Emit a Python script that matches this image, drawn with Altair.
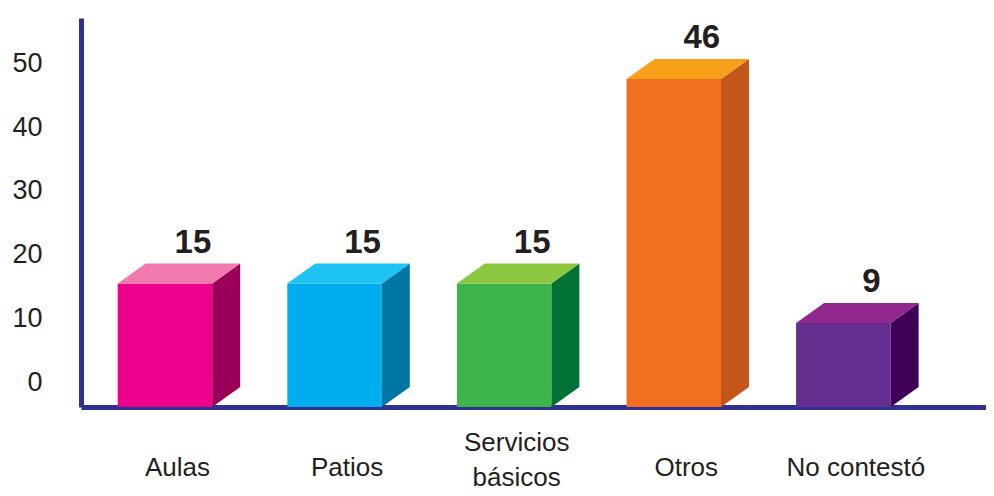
import altair as alt
import pandas as pd

# ---- data ----
categories = ["Aulas", "Patios", "Servicios básicos", "Otros", "No contestó"]
values = [15, 15, 15, 46, 9]
front_colors = ["#EC008C", "#00AEEF", "#3DB54A", "#F26F21", "#662D91"]
top_colors = ["#F07AAE", "#1DC3F3", "#8DC63F", "#F7A11A", "#92278F"]
side_colors = ["#9B0058", "#0076A3", "#007236", "#C4561B", "#3F0058"]
y_ticks = [0, 10, 20, 30, 40, 50]

# ---- layout / style constants ----
W, H = 905, 389
PAD = {"left": 73, "top": 10, "right": 0, "bottom": 81}
X_DOMAIN = [-0.495, 4.841]        # category index scale
HALF = 0.2786                     # half bar width (index units)
DX = 0.165                        # 3D depth, horizontal (index units)
BAR_Y_DOMAIN = [-3.71, 55.23]
DY = 3.03                         # 3D depth, vertical (value units)
AXIS_Y_DOMAIN = [-3.92, 57.14]
NAVY = "#2E3192"
TXT = "#231F20"

idx = list(range(len(categories)))
base = BAR_Y_DOMAIN[0]

front = pd.DataFrame({
    "xl": [i - HALF for i in idx], "xr": [i + HALF for i in idx],
    "top": values, "bot": [base] * len(idx), "col": front_colors,
})

side_rows, top_rows = [], []
for i, v, sc, tc in zip(idx, values, side_colors, top_colors):
    side_rows.append({"k": i, "x": i + HALF, "y": v, "y2": base, "col": sc})
    side_rows.append({"k": i, "x": i + HALF + DX, "y": v + DY, "y2": base + DY, "col": sc})
    top_rows.append({"k": i, "y": v, "x": i - HALF, "x2": i + HALF, "col": tc})
    top_rows.append({"k": i, "y": v + DY, "x": i - HALF + DX, "x2": i + HALF + DX, "col": tc})
side = pd.DataFrame(side_rows)
topf = pd.DataFrame(top_rows)
labels = pd.DataFrame({"x": [i + DX for i in idx], "y": [v + DY for v in values],
                       "t": [str(v) for v in values]})

multi = [i for i, c in enumerate(categories) if c == "Servicios básicos"]

def expr_item(c):
    if c == "Servicios básicos":
        return "[" + ",".join("'" + p + "'" for p in c.split(" ")) + "]"
    return "'" + c + "'"

label_expr = "[" + ",".join(expr_item(c) for c in categories) + "][datum.value]"
multi_test = " || ".join("datum.value == %d" % i for i in multi) or "false"

X_AXIS = alt.Axis(values=idx, labelExpr=label_expr, ticks=False, grid=False, title=None,
                  domainColor=NAVY, domainWidth=5, labelFont="Liberation Sans",
                  labelFontSize=26, labelColor=TXT, labelOffset=12,
                  labelBaseline={"condition": {"test": multi_test, "value": "alphabetic"},
                                 "value": "line-top"},
                  labelPadding=43, labelLineHeight=35, labelOverlap=False, labelFlush=False)
xs = alt.Scale(domain=X_DOMAIN, nice=False, zero=False)
ys = alt.Scale(domain=BAR_Y_DOMAIN, nice=False, zero=False)

axis_layer = alt.Chart(pd.DataFrame({"t": y_ticks})).mark_point(opacity=0).encode(
    y=alt.Y("t:Q", scale=alt.Scale(domain=AXIS_Y_DOMAIN, nice=False, zero=False),
            axis=alt.Axis(orient="left", values=y_ticks, ticks=False, tickSize=0, grid=False,
                          title=None, domainColor=NAVY, domainWidth=5,
                          labelFont="Liberation Sans", labelFontSize=27, labelColor=TXT,
                          labelPadding=39)),
)

front_layer = alt.Chart(front).mark_rect().encode(
    x=alt.X("xl:Q", scale=xs, axis=X_AXIS), x2="xr:Q",
    y=alt.Y("top:Q", scale=ys, axis=None), y2="bot:Q",
    color=alt.Color("col:N", scale=None),
)

side_layer = alt.Chart(side).mark_area().encode(
    x=alt.X("x:Q", scale=xs, axis=X_AXIS),
    y=alt.Y("y:Q", scale=ys, axis=None), y2="y2:Q",
    color=alt.Color("col:N", scale=None), detail="k:N",
)

top_layer = alt.Chart(topf).mark_area(orient="horizontal").encode(
    y=alt.Y("y:Q", scale=ys, axis=None),
    x=alt.X("x:Q", scale=xs, axis=X_AXIS), x2="x2:Q",
    color=alt.Color("col:N", scale=None), detail="k:N",
)

text_layer = alt.Chart(labels).mark_text(
    font="Liberation Sans", fontWeight="bold", fontSize=33, color=TXT,
    align="center", baseline="alphabetic", dy=-11,
).encode(
    x=alt.X("x:Q", scale=xs, axis=X_AXIS),
    y=alt.Y("y:Q", scale=ys, axis=None),
    text="t:N",
)

chart = alt.layer(axis_layer, front_layer, side_layer, top_layer, text_layer).resolve_scale(
    y="independent"
).properties(
    width=W, height=H, padding=PAD, autosize=alt.AutoSizeParams(type="none"),
).configure_view(stroke=None)

chart.save("out.html", embed_options={"renderer": "svg", "actions": False})
